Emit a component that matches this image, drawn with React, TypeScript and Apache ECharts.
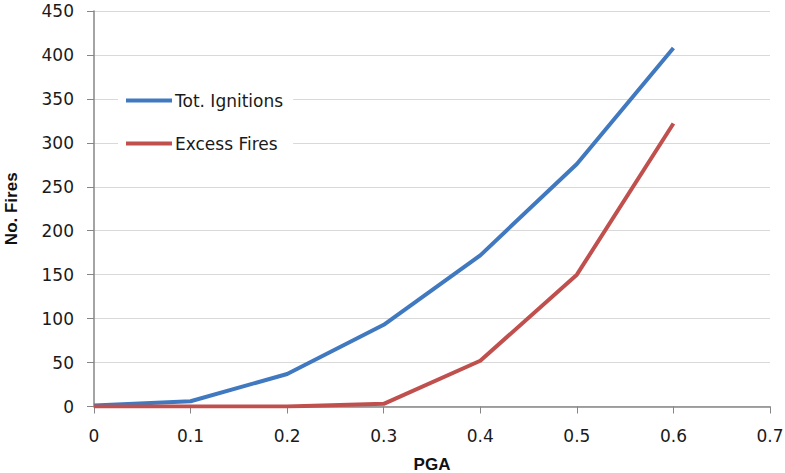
import React, { useEffect, useRef } from "react";
import * as echarts from "echarts";

const pga = [0, 0.1, 0.2, 0.3, 0.4, 0.5, 0.6];
const totIgnitions = [1, 6, 37, 93, 172, 276, 408];
const excessFires = [0, 0, 0, 3, 52, 150, 322];

export default function App() {
  const ref = useRef<HTMLDivElement>(null);
  useEffect(() => {
    const chart = echarts.init(ref.current!, null, { renderer: "svg" });
    const tickFont = { fontFamily: "DejaVu Sans", fontSize: 17, color: "#1a1a1a" };
    chart.setOption({
      animation: false,
      backgroundColor: "#fff",
      grid: { left: 94, right: 15, top: 11, bottom: 66.5, outerBoundsMode: "none", containLabel: false },
      legend: {
        orient: "vertical",
        left: 118,
        top: 86,
        padding: [6, 10, 6, 8],
        backgroundColor: "#fff",
        itemWidth: 46,
        itemHeight: 4,
        itemGap: 26,
        icon: "rect",
        textStyle: { fontFamily: "DejaVu Sans", fontSize: 17, color: "#1a1a1a", padding: [0, 0, 0, -2] },
        data: ["Tot. Ignitions", "Excess Fires"],
      },
      xAxis: {
        type: "value",
        min: 0,
        max: 0.7,
        interval: 0.1,
        name: "PGA",
        nameLocation: "middle",
        nameGap: 49,
        nameTextStyle: { fontFamily: "Liberation Sans", fontWeight: "bold", fontSize: 17, color: "#111" },
        axisLine: { show: true, lineStyle: { color: "#868686", width: 1.5 } },
        axisTick: { show: true, length: 7, lineStyle: { color: "#868686" } },
        axisLabel: { ...tickFont, margin: 21 },
        splitLine: { show: false },
      },
      yAxis: {
        type: "value",
        min: 0,
        max: 450,
        interval: 50,
        name: "No. Fires",
        nameLocation: "middle",
        nameGap: 74,
        nameTextStyle: { fontFamily: "Liberation Sans", fontWeight: "bold", fontSize: 17, color: "#111" },
        axisLine: { show: true, lineStyle: { color: "#868686", width: 1.5 } },
        axisTick: { show: true, length: 7, lineStyle: { color: "#868686" } },
        axisLabel: { ...tickFont, margin: 20 },
        splitLine: { show: true, lineStyle: { color: "#d9d9d9", width: 1.2 } },
      },
      series: [
        {
          name: "Tot. Ignitions",
          type: "line",
          data: pga.map((x, i) => [x, totIgnitions[i]]),
          showSymbol: false,
          symbol: "none",
          lineStyle: { color: "#4079bf", width: 4 },
          itemStyle: { color: "#4079bf" },
        },
        {
          name: "Excess Fires",
          type: "line",
          data: pga.map((x, i) => [x, excessFires[i]]),
          showSymbol: false,
          symbol: "none",
          lineStyle: { color: "#c0504d", width: 4 },
          itemStyle: { color: "#c0504d" },
        },
      ],
    });
    return () => chart.dispose();
  }, []);
  return <div ref={ref} style={{ width: 785, height: 473, position: "fixed", left: 0, top: 0 }} />;
}
